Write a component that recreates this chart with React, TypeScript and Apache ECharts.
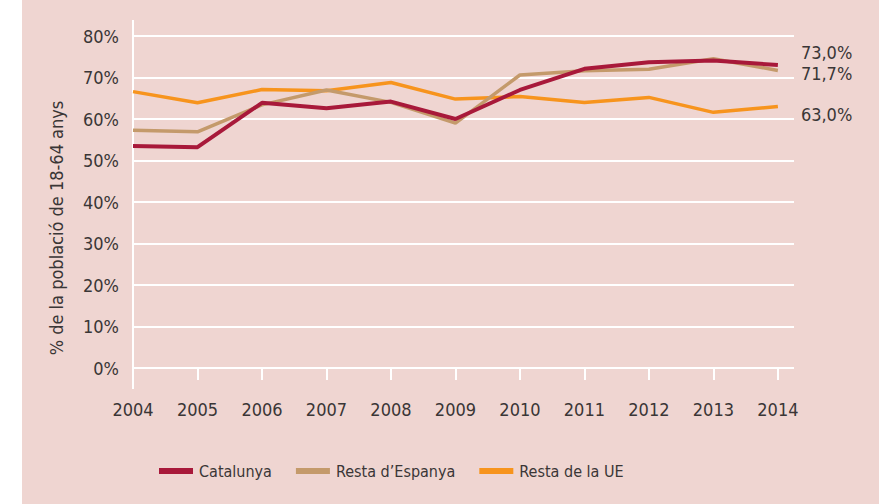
import React, { useEffect, useRef } from "react";
import * as echarts from "echarts";

const years = [2004, 2005, 2006, 2007, 2008, 2009, 2010, 2011, 2012, 2013, 2014];
const catalunya = [53.5, 53.2, 63.9, 62.6, 64.2, 60.0, 67.0, 72.1, 73.7, 74.1, 73.0];
const restaEspanya = [57.3, 56.9, 63.4, 67.0, 64.0, 59.0, 70.6, 71.6, 72.0, 74.5, 71.7];
const restaUE = [66.6, 63.9, 67.1, 66.8, 68.8, 64.8, 65.4, 64.0, 65.2, 61.6, 63.0];
const seriesNames = ["Catalunya", "Resta d\u2019Espanya", "Resta de la UE"];
const yTicks = [0, 10, 20, 30, 40, 50, 60, 70, 80];

const FONT = "'Liberation Sans Narrow', 'DejaVu Sans Condensed', 'Roboto Condensed', sans-serif";
const TEXT = "#3a3636";
const COLORS = ["#a8193a", "#c49a6b", "#f7941d"];
const LABEL_OFFSETS = [-13, 3, 8];

export default function App() {
  const ref = useRef<HTMLDivElement>(null);
  useEffect(() => {
    document.body.style.margin = "0";
    if (!ref.current) return;
    const chart = echarts.init(ref.current, null, { renderer: "svg" });
    const all = [catalunya, restaEspanya, restaUE];
    const fmt = (v: number) => v.toFixed(1).replace(".", ",") + "%";
    chart.setOption({
      animation: false,
      backgroundColor: "transparent",
      textStyle: { fontFamily: FONT },
      grid: { left: 133, right: 85, top: 36, bottom: 136 },
      legend: {
        bottom: 25,
        left: 159,
        padding: 0,
        itemWidth: 34,
        itemHeight: 6,
        itemGap: 24,
        icon: "rect",
        textStyle: { fontFamily: FONT, fontSize: 16, color: TEXT, padding: [0, 0, 0, 1] },
        data: seriesNames,
      },
      xAxis: {
        type: "value",
        min: years[0],
        max: years[years.length - 1] + 0.25,
        interval: 1,
        splitLine: { show: false },
        axisLine: { show: false },
        axisTick: {
          show: true,
          length: 12,
          lineStyle: { color: "#ffffff", width: 2 },
          customValues: years,
        },
        axisLabel: {
          customValues: years,
          margin: 32,
          color: TEXT,
          fontSize: 18,
          fontFamily: FONT,
          formatter: (v: number) => String(v),
        },
      },
      yAxis: {
        type: "value",
        min: yTicks[0],
        max: yTicks[yTicks.length - 1],
        interval: 10,
        name: "% de la poblaci\u00f3 de 18-64 anys",
        nameLocation: "middle",
        nameGap: 68,
        nameTextStyle: { fontFamily: FONT, fontSize: 18, color: TEXT, padding: [0, 52, 0, 0] },
        axisLine: { show: false },
        axisTick: { show: false },
        splitLine: { lineStyle: { color: "#ffffff", width: 2 } },
        axisLabel: {
          margin: 14,
          color: TEXT,
          fontSize: 18,
          fontFamily: FONT,
          formatter: (v: number) => v + "%",
        },
      },
      series: all.map((arr, i) => ({
        name: seriesNames[i],
        type: "line",
        data: arr.map((v, j) => [years[j], v]),
        showSymbol: false,
        symbol: "none",
        z: 10 - i,
        color: COLORS[i],
        lineStyle: { color: COLORS[i], width: i === 0 ? 4 : 3.5 },
        endLabel: {
          show: true,
          distance: 23,
          offset: [0, LABEL_OFFSETS[i]],
          fontFamily: FONT,
          fontSize: 18,
          color: TEXT,
          formatter: (p: any) => fmt(p.value[1]),
        },
      })),
    });
    const [x0, yTop] = chart.convertToPixel({ gridIndex: 0 }, [years[0], yTicks[yTicks.length - 1]]) as number[];
    const [, yBot] = chart.convertToPixel({ gridIndex: 0 }, [years[0], yTicks[0]]) as number[];
    chart.setOption({
      graphic: [
        {
          type: "rect",
          z: -10,
          silent: true,
          shape: { x: 22, y: 0, width: 879 - 22, height: 504 },
          style: { fill: "#efd5d1" },
        },
        {
          type: "line",
          z: 5,
          silent: true,
          shape: { x1: x0, y1: yTop - 16, x2: x0, y2: yBot + 21 },
          style: { stroke: "#ffffff", lineWidth: 2 },
        },
      ],
    });
    return () => chart.dispose();
  }, []);
  return <div ref={ref} style={{ width: 879, height: 504, background: "#ffffff" }} />;
}
